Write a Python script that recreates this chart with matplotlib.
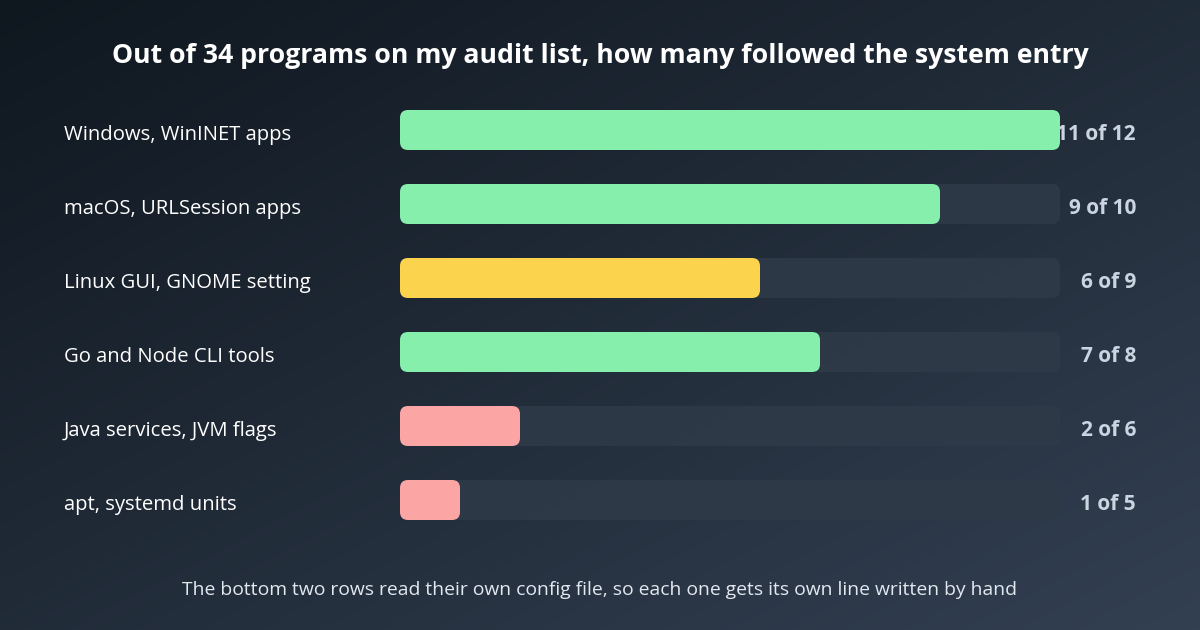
import numpy as np
import matplotlib.pyplot as plt
from matplotlib.patches import FancyBboxPatch

plt.rcParams['font.family'] = ['Open Sans', 'DejaVu Sans']

# ── Data ────────────────────────────────────────────────────
labels = ["Windows, WinINET apps", "macOS, URLSession apps", "Linux GUI, GNOME setting",
          "Go and Node CLI tools", "Java services, JVM flags", "apt, systemd units"]
followed = [11, 9, 6, 7, 2, 1]
totals = [12, 10, 9, 8, 6, 5]
colors = ["#86efac", "#86efac", "#fcd34d", "#86efac", "#fca5a5", "#fca5a5"]
scale_max = 11

W, H = 1200, 630
fig = plt.figure(figsize=(12, 6.3), dpi=100)

# background gradient
bg = fig.add_axes([0, 0, 1, 1])
yy, xx = np.mgrid[0:1:200j, 0:1:200j]
t = (xx + yy) / 2
c0 = np.array([0x0f, 0x17, 0x1f]) / 255
c1 = np.array([0x33, 0x40, 0x52]) / 255
img = c0 + (c1 - c0) * t[..., None]
bg.imshow(img, extent=[0, W, H, 0], aspect='auto')
bg.set_xlim(0, W); bg.set_ylim(H, 0)
bg.axis('off')

bg.text(W / 2, 56, "Out of 34 programs on my audit list, how many followed the system entry",
        ha='center', va='center', color='white', fontsize=19.2, fontweight='bold')
bg.text(W / 2, 590, "The bottom two rows read their own config file, so each one gets its own line written by hand",
        ha='center', va='center', color='#e2e8f0', fontsize=13.9)

# bars
ax = fig.add_axes([400 / W, 1 - 537 / H, 660 / W, 444 / H])
ax.set_xlim(0, scale_max)
ax.set_ylim(len(labels) - 0.5, -0.5)
ax.axis('off')
bh = 40 / 74
r = 8 * scale_max / 660
aspect = (1 / 74) / (scale_max / 660)
for i, (lab, f, tot, col) in enumerate(zip(labels, followed, totals, colors)):
    ax.add_patch(FancyBboxPatch((0, i - bh / 2), scale_max, bh,
                                boxstyle=f"round,pad=0,rounding_size={r}",
                                mutation_aspect=aspect, fc='#2f3a48', ec='none', alpha=0.9))
    ax.add_patch(FancyBboxPatch((0, i - bh / 2), f, bh,
                                boxstyle=f"round,pad=0,rounding_size={r}",
                                mutation_aspect=aspect, fc=col, ec='none'))
    bg.text(64, 135 + 74 * i, lab, ha='left', va='center', color='white', fontsize=14.6)
    bg.text(1136, 135 + 74 * i, f"{f} of {tot}", ha='right', va='center',
            color='#cbd5e1', fontsize=15, fontweight='bold')

fig.savefig('out.png', dpi=100)
